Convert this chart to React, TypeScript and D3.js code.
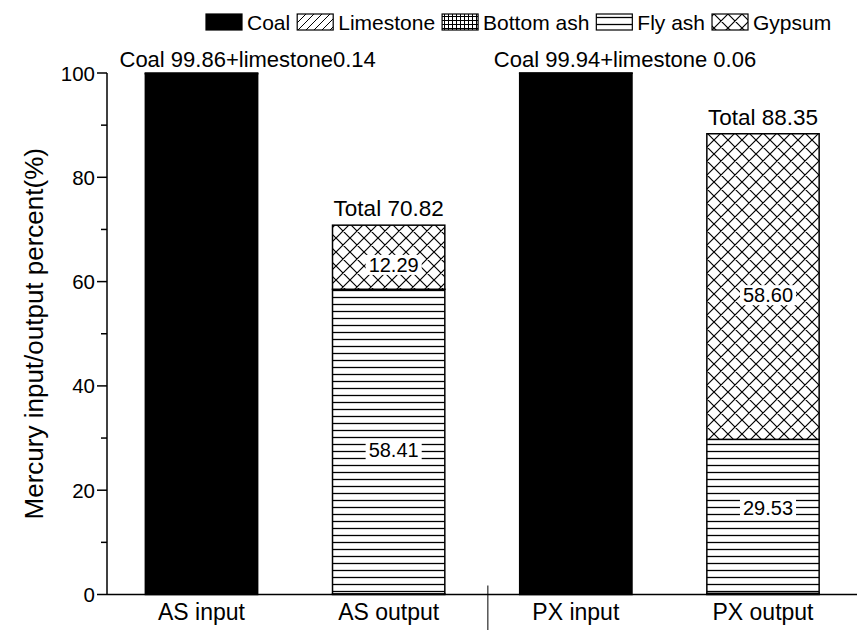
import React, { useEffect, useRef } from "react";
import * as d3 from "d3";

const categories = ["AS input", "AS output", "PX input", "PX output"];
const components = ["Coal", "Limestone", "Bottom ash", "Fly ash", "Gypsum"];
const coal = [99.86, 0, 99.94, 0];
const limestone = [0.14, 0, 0.06, 0];
const bottomAsh = [0, 0.12, 0, 0.22];
const flyAsh = [0, 58.41, 0, 29.53];
const gypsum = [0, 12.29, 0, 58.6];
const topLabels = ["Coal 99.86+limestone0.14", "Total 70.82", "Coal 99.94+limestone 0.06", "Total 88.35"];
const segLabelCat = [1, 1, 3, 3];
const segLabelText = ["12.29", "58.41", "58.60", "29.53"];
const segLabelAt = [63.2, 27.7, 57.4, 16.6];
const yMajor = [0, 20, 40, 60, 80, 100];
const yMinor = [10, 30, 50, 70, 90];
const dividerAt = 2.53;

const W = 857;
const H = 630;
const FONT = "Arial, 'Liberation Sans', sans-serif";

export default function App() {
  const ref = useRef<SVGSVGElement>(null);
  useEffect(() => {
    const svg = d3.select(ref.current);
    svg.selectAll("*").remove();

    const x = d3.scaleLinear().domain([1, 4]).range([201.5, 763]);
    const y = d3.scaleLinear().domain([0, 100]).range([594.5, 73]);
    const barW = x(1.6) - x(1);
    const axisX = 107;

    const defs = svg.append("defs");
    const pat = (id: string, w: number, h: number, d: string, sw: number) => {
      const p = defs.append("pattern").attr("id", id).attr("patternUnits", "userSpaceOnUse")
        .attr("width", w).attr("height", h);
      p.append("rect").attr("width", w).attr("height", h).attr("fill", "#fff");
      p.append("path").attr("d", d).attr("stroke", "#000").attr("stroke-width", sw).attr("fill", "none");
    };
    pat("p-lime", 8, 8, "M0,8L8,0M-2,2L2,-2M6,10L10,6", 1);
    pat("p-bash", 4, 4, "M0,0.5H4M0.5,0V4", 1);
    pat("p-fly", 10, 7, "M0,3.5H10", 1.3);
    pat("p-gyp", 14, 14, "M0,0L14,14M14,0L0,14M-1,13L1,15M13,-1L15,1M-1,1L1,-1M13,15L15,13", 1.2);

    const fills = ["#000", "url(#p-lime)", "url(#p-bash)", "url(#p-fly)", "url(#p-gyp)"];
    const series = [coal, limestone, bottomAsh, flyAsh, gypsum];

    // bars
    const g = svg.append("g");
    categories.forEach((c, i) => {
      let base = 0;
      series.forEach((s, k) => {
        const v = s[i];
        if (v <= 0) return;
        g.append("rect")
          .attr("x", x(i + 1) - barW / 2)
          .attr("y", y(base + v))
          .attr("width", barW)
          .attr("height", y(base) - y(base + v))
          .attr("fill", fills[k])
          .attr("stroke", "#000")
          .attr("stroke-width", 1.5);
        base += v;
      });
    });

    // segment labels
    segLabelCat.forEach((ci, j) => {
      const t = svg.append("text")
        .attr("x", x(ci + 1) + 5)
        .attr("y", y(segLabelAt[j]))
        .attr("text-anchor", "middle")
        .attr("dominant-baseline", "central")
        .attr("font-family", FONT)
        .attr("font-size", 20)
        .text(segLabelText[j]);
      const bb = (t.node() as SVGTextElement).getBBox();
      svg.insert("rect", () => t.node())
        .attr("x", bb.x - 3).attr("y", bb.y + 1).attr("width", bb.width + 6).attr("height", bb.height - 2)
        .attr("fill", "#fff");
    });

    // top labels
    categories.forEach((c, i) => {
      const total = series.reduce((a, s) => a + s[i], 0);
      const isInput = i % 2 === 0;
      svg.append("text")
        .attr("x", isInput ? x(i + 1) - 82 : x(i + 1))
        .attr("y", y(total) - (isInput ? 6 : 9))
        .attr("text-anchor", isInput ? "start" : "middle")
        .attr("font-family", FONT)
        .attr("font-size", isInput ? 22 : 22.5)
        .text(topLabels[i]);
    });

    // axes
    const ax = svg.append("g").attr("stroke", "#000").attr("stroke-width", 1.5);
    ax.append("line").attr("x1", axisX).attr("x2", axisX).attr("y1", y(0)).attr("y2", y(100));
    ax.append("line").attr("x1", axisX).attr("x2", W).attr("y1", y(0)).attr("y2", y(0));
    yMajor.forEach((v) => {
      ax.append("line").attr("x1", axisX - 10).attr("x2", axisX).attr("y1", y(v)).attr("y2", y(v));
      svg.append("text").attr("x", axisX - 12).attr("y", y(v)).attr("text-anchor", "end")
        .attr("dominant-baseline", "central").attr("font-family", FONT).attr("font-size", 20.5).text(String(v));
    });
    yMinor.forEach((v) => {
      ax.append("line").attr("x1", axisX - 6).attr("x2", axisX).attr("y1", y(v)).attr("y2", y(v));
    });
    ax.append("line").attr("x1", x(dividerAt)).attr("x2", x(dividerAt)).attr("y1", y(0) - 9).attr("y2", H)
      .attr("stroke-width", 1);

    categories.forEach((c, i) => {
      svg.append("text").attr("x", x(i + 1)).attr("y", 620).attr("text-anchor", "middle")
        .attr("font-family", FONT).attr("font-size", 23).text(c);
    });

    svg.append("text")
      .attr("transform", `translate(43,${(y(0) + y(100)) / 2}) rotate(-90)`)
      .attr("text-anchor", "middle")
      .attr("font-family", FONT).attr("font-size", 26)
      .text("Mercury input/output percent(%)");

    // legend
    const lg = svg.append("g");
    let lx = 206;
    const boxW = 36, boxH = 16, ly = 22;
    components.forEach((name, k) => {
      lg.append("rect").attr("x", lx).attr("y", ly - boxH / 2).attr("width", boxW).attr("height", boxH)
        .attr("fill", fills[k]).attr("stroke", "#000").attr("stroke-width", 1.2);
      lx += boxW + 5;
      const t = lg.append("text").attr("x", lx).attr("y", ly).attr("dominant-baseline", "central")
        .attr("font-family", FONT).attr("font-size", 21).text(name);
      lx += (t.node() as SVGTextElement).getComputedTextLength() + 7;
    });
  }, []);

  return (
    <svg ref={ref} width={W} height={H} style={{ position: "absolute", left: 0, top: 0, background: "#fff" }} />
  );
}
